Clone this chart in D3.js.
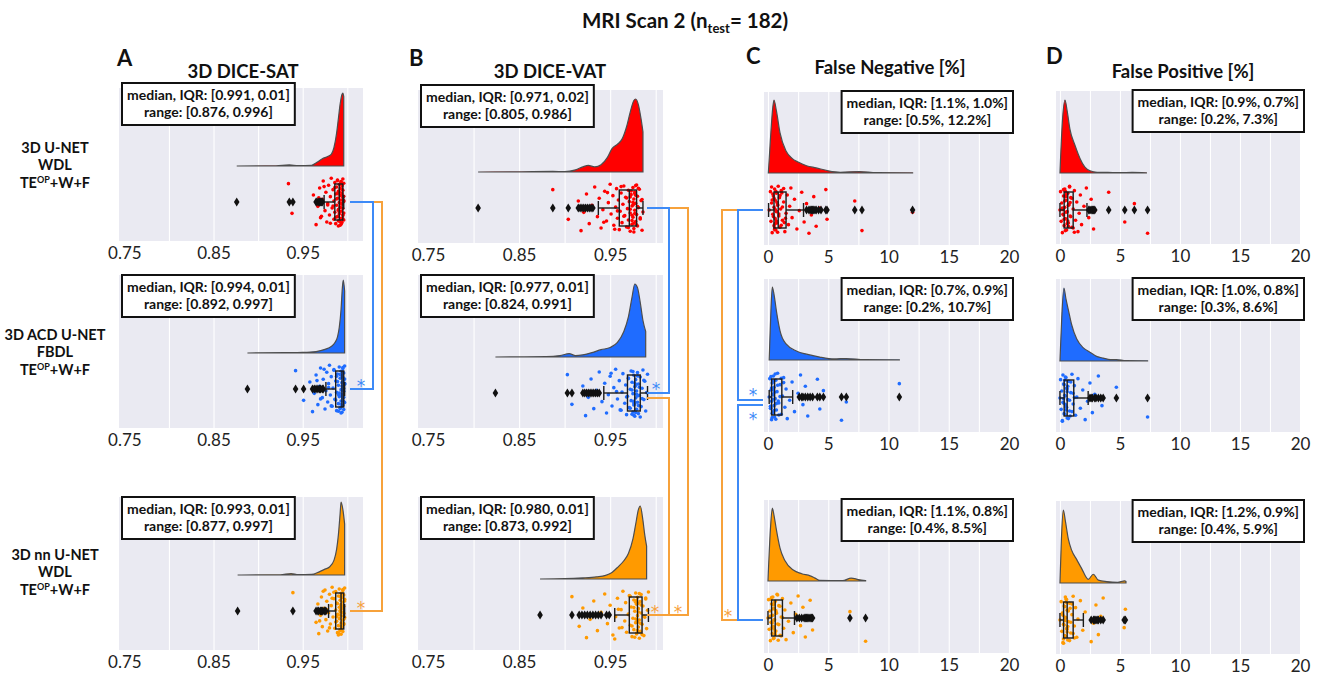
<!DOCTYPE html>
<html>
<head>
<meta charset="utf-8">
<script src="https://cdn.jsdelivr.net/npm/d3@7"></script>
<style>
  body { margin: 0; background: #fff; }
  svg { font-family: Lato, 'Open Sans', sans-serif; }
</style>
</head>
<body>
<svg id="chart" width="1320" height="676"></svg>
<script>

// ---- data ----
const metrics = ['3D DICE-SAT', '3D DICE-VAT', 'False Negative [%]', 'False Positive [%]']
const letters = ['A', 'B', 'C', 'D']
const modelNames = [['3D U-NET', 'WDL'], ['3D ACD U-NET', 'FBDL'], ['3D nn U-NET', 'WDL']]
const seriesColors = ['#ff0000', '#1f6cff', '#ff9a00']

const diceTicks = [0.75, 0.85, 0.95]
const diceGrid = [0.80, 0.85, 0.90, 0.95, 1.00]
const pctTicks = [0, 5, 10, 15, 20]
const pctGrid = [0, 2.5, 5, 7.5, 10, 12.5, 15, 17.5]

// box stats: [whisker low, q1, median, q3, whisker high]
const satBox = [[0.974, 0.986, 0.991, 0.995, 0.996], [0.976, 0.987, 0.994, 0.996, 0.997], [0.979, 0.987, 0.993, 0.996, 0.997]]
const vatBox = [[0.937, 0.960, 0.971, 0.979, 0.986], [0.943, 0.969, 0.977, 0.983, 0.991], [0.955, 0.971, 0.980, 0.985, 0.992]]
const fnBox = [[0.05, 0.5, 0.85, 1.5, 2.95], [0.1, 0.3, 0.55, 1.15, 2.05], [0.0, 0.3, 0.6, 1.2, 2.2]]
const fpBox = [[0.0, 0.35, 0.65, 1.1, 2.25], [0.0, 0.35, 0.6, 1.15, 2.35], [0.0, 0.3, 0.6, 1.1, 1.95]]

const satOutliers = [
  [0.876, 0.935, 0.939, 0.965, 0.966, 0.968, 0.969, 0.970, 0.971, 0.972],
  [0.888, 0.942, 0.951, 0.961, 0.963, 0.965, 0.967, 0.969, 0.970, 0.972, 0.973],
  [0.877, 0.939, 0.965, 0.967, 0.968, 0.970, 0.971, 0.972, 0.974, 0.975, 0.976]]
const vatOutliers = [
  [0.805, 0.887, 0.904, 0.915, 0.917, 0.919, 0.921, 0.923, 0.925, 0.927, 0.929, 0.931],
  [0.824, 0.903, 0.908, 0.920, 0.922, 0.924, 0.926, 0.928, 0.930, 0.932, 0.934, 0.936, 0.938],
  [0.873, 0.908, 0.916, 0.919, 0.922, 0.925, 0.928, 0.931, 0.934, 0.937, 0.940, 0.946, 0.949]]
const fnOutliers = [
  [3.2, 3.4, 3.5, 3.6, 3.7, 3.8, 3.9, 4.0, 4.2, 4.4, 4.8, 4.9, 7.2, 7.8, 12.0],
  [2.6, 2.8, 2.9, 3.1, 3.3, 3.5, 3.7, 4.1, 4.3, 4.6, 6.1, 6.5, 10.9],
  [2.4, 2.6, 2.8, 3.0, 3.1, 3.2, 3.3, 3.4, 3.5, 3.6, 3.7, 6.8, 8.1]]
const fpOutliers = [
  [2.4, 2.5, 2.6, 2.7, 2.8, 2.9, 4.06, 5.4, 6.2, 7.3],
  [2.5, 2.6, 2.7, 2.9, 3.0, 3.2, 3.4, 3.6, 4.7, 7.3],
  [2.6, 2.8, 2.9, 3.0, 3.1, 3.2, 3.4, 3.6, 5.35, 5.45]]

const satPoints = [
  [0.876, 0.934, 0.938, 0.962, 0.965, 0.967, 0.969, 0.970, 0.972, 0.973, 0.975, 0.976, 0.977, 0.978, 0.979, 0.980, 0.981, 0.982, 0.983, 0.984, 0.985, 0.985, 0.986, 0.986, 0.987, 0.987, 0.988, 0.988, 0.989, 0.989, 0.989, 0.990, 0.990, 0.990, 0.991, 0.991, 0.991, 0.992, 0.992, 0.992, 0.992, 0.993, 0.993, 0.993, 0.993, 0.994, 0.994, 0.994, 0.994, 0.995, 0.995, 0.995, 0.995, 0.995, 0.996, 0.996, 0.996, 0.996, 0.994, 0.993,
   0.984, 0.986, 0.987, 0.988, 0.989, 0.990, 0.991, 0.992, 0.993, 0.994, 0.995, 0.996, 0.990, 0.992, 0.994, 0.995, 0.996, 0.993, 0.991, 0.989, 0.981, 0.978, 0.974, 0.971, 0.968],
  [0.888, 0.942, 0.951, 0.958, 0.961, 0.963, 0.965, 0.967, 0.969, 0.970, 0.972, 0.973, 0.975, 0.976, 0.977, 0.978, 0.979, 0.980, 0.981, 0.982, 0.983, 0.984, 0.985, 0.986, 0.987, 0.988, 0.988, 0.989, 0.990, 0.990, 0.991, 0.991, 0.992, 0.992, 0.993, 0.993, 0.993, 0.994, 0.994, 0.994, 0.994, 0.995, 0.995, 0.995, 0.995, 0.996, 0.996, 0.996, 0.996, 0.997, 0.997, 0.997, 0.994, 0.995, 0.993, 0.996,
   0.985, 0.987, 0.989, 0.990, 0.991, 0.992, 0.993, 0.994, 0.995, 0.996, 0.997, 0.992, 0.994, 0.995, 0.996, 0.997, 0.993, 0.990, 0.988, 0.982, 0.979, 0.974, 0.970, 0.966],
  [0.877, 0.939, 0.965, 0.967, 0.968, 0.970, 0.971, 0.972, 0.974, 0.975, 0.976, 0.977, 0.978, 0.979, 0.980, 0.981, 0.982, 0.983, 0.984, 0.985, 0.986, 0.987, 0.987, 0.988, 0.988, 0.989, 0.989, 0.990, 0.990, 0.991, 0.991, 0.991, 0.992, 0.992, 0.992, 0.993, 0.993, 0.993, 0.993, 0.994, 0.994, 0.994, 0.994, 0.995, 0.995, 0.995, 0.995, 0.996, 0.996, 0.996, 0.996, 0.997, 0.997, 0.997, 0.993, 0.992,
   0.985, 0.987, 0.989, 0.990, 0.991, 0.992, 0.993, 0.994, 0.995, 0.996, 0.997, 0.992, 0.994, 0.995, 0.996, 0.993, 0.990, 0.988, 0.983, 0.980, 0.977, 0.973, 0.969]]
const vatPoints = [
  [0.805, 0.887, 0.904, 0.915, 0.918, 0.921, 0.924, 0.927, 0.930, 0.933, 0.936, 0.938, 0.940, 0.942, 0.944, 0.946, 0.948, 0.950, 0.951, 0.953, 0.954, 0.956, 0.957, 0.958, 0.959, 0.960, 0.961, 0.962, 0.963, 0.964, 0.965, 0.966, 0.967, 0.968, 0.969, 0.970, 0.970, 0.971, 0.972, 0.972, 0.973, 0.974, 0.974, 0.975, 0.975, 0.976, 0.976, 0.977, 0.977, 0.978, 0.978, 0.979, 0.979, 0.980, 0.980, 0.981, 0.982, 0.983, 0.984, 0.985, 0.986, 0.977, 0.976, 0.975,
   0.962, 0.965, 0.968, 0.970, 0.972, 0.973, 0.974, 0.975, 0.976, 0.977, 0.978, 0.979, 0.980, 0.981, 0.983, 0.985, 0.955, 0.958, 0.947, 0.943, 0.976, 0.978, 0.974, 0.972],
  [0.824, 0.903, 0.908, 0.920, 0.923, 0.926, 0.929, 0.932, 0.935, 0.938, 0.941, 0.944, 0.946, 0.948, 0.950, 0.952, 0.954, 0.956, 0.958, 0.960, 0.962, 0.963, 0.964, 0.966, 0.967, 0.968, 0.969, 0.970, 0.971, 0.972, 0.973, 0.973, 0.974, 0.975, 0.975, 0.976, 0.976, 0.977, 0.977, 0.978, 0.978, 0.979, 0.979, 0.980, 0.980, 0.981, 0.981, 0.982, 0.983, 0.984, 0.985, 0.986, 0.987, 0.988, 0.989, 0.990, 0.991, 0.977, 0.978, 0.976,
   0.968, 0.970, 0.972, 0.974, 0.975, 0.976, 0.977, 0.978, 0.979, 0.980, 0.981, 0.982, 0.983, 0.985, 0.987, 0.961, 0.957, 0.951, 0.976, 0.978, 0.974, 0.980],
  [0.873, 0.908, 0.916, 0.920, 0.924, 0.928, 0.932, 0.936, 0.940, 0.944, 0.947, 0.950, 0.953, 0.956, 0.958, 0.960, 0.962, 0.964, 0.966, 0.967, 0.968, 0.970, 0.971, 0.972, 0.973, 0.974, 0.975, 0.976, 0.976, 0.977, 0.978, 0.978, 0.979, 0.979, 0.980, 0.980, 0.981, 0.981, 0.982, 0.982, 0.983, 0.983, 0.984, 0.984, 0.985, 0.986, 0.987, 0.988, 0.989, 0.990, 0.991, 0.992, 0.980, 0.981, 0.979,
   0.970, 0.972, 0.974, 0.976, 0.977, 0.978, 0.979, 0.980, 0.981, 0.982, 0.983, 0.984, 0.985, 0.987, 0.989, 0.963, 0.959, 0.955, 0.980, 0.978, 0.982]]
const fnPoints = [
  [0.1, 0.2, 0.25, 0.3, 0.35, 0.4, 0.45, 0.5, 0.5, 0.55, 0.6, 0.6, 0.65, 0.7, 0.7, 0.75, 0.8, 0.85, 0.9, 0.95, 1.0, 1.05, 1.1, 1.2, 1.3, 1.4, 1.5, 1.6, 1.7, 1.8, 1.9, 2.0, 2.2, 2.4, 2.6, 2.8, 3.0, 3.2, 3.4, 3.6, 3.8, 4.0, 4.3, 4.8, 4.9, 7.2, 7.8, 12.0, 0.4, 0.6, 0.8,
   0.3, 0.45, 0.5, 0.55, 0.6, 0.65, 0.7, 0.75, 0.8, 0.9, 1.0, 1.1, 1.2, 1.3, 1.45, 0.35, 0.55, 0.7, 1.15, 1.35],
  [0.1, 0.15, 0.2, 0.25, 0.3, 0.3, 0.35, 0.4, 0.4, 0.45, 0.5, 0.5, 0.55, 0.6, 0.65, 0.7, 0.75, 0.8, 0.9, 1.0, 1.1, 1.2, 1.3, 1.4, 1.5, 1.6, 1.8, 2.0, 2.2, 2.5, 2.7, 2.9, 3.1, 3.3, 3.6, 4.1, 4.3, 4.6, 6.1, 6.5, 10.9, 0.35, 0.45, 0.25,
   0.2, 0.3, 0.35, 0.4, 0.45, 0.5, 0.55, 0.6, 0.7, 0.8, 0.9, 1.0, 1.1, 0.25, 0.4, 0.65, 0.85, 1.3],
  [0.0, 0.05, 0.1, 0.15, 0.2, 0.25, 0.3, 0.35, 0.4, 0.4, 0.45, 0.5, 0.5, 0.55, 0.6, 0.65, 0.7, 0.75, 0.8, 0.9, 1.0, 1.1, 1.2, 1.3, 1.4, 1.5, 1.7, 1.9, 2.1, 2.3, 2.5, 2.7, 2.9, 3.1, 3.3, 3.5, 3.7, 6.8, 8.1, 0.35, 0.45, 0.6,
   0.2, 0.3, 0.35, 0.4, 0.45, 0.5, 0.55, 0.6, 0.7, 0.8, 0.9, 1.0, 1.1, 1.2, 0.25, 0.5, 0.65, 0.85]]
const fpPoints = [
  [0.0, 0.05, 0.1, 0.15, 0.2, 0.25, 0.3, 0.35, 0.4, 0.4, 0.45, 0.5, 0.55, 0.6, 0.65, 0.7, 0.75, 0.8, 0.85, 0.9, 1.0, 1.1, 1.2, 1.3, 1.4, 1.5, 1.6, 1.7, 1.8, 2.0, 2.2, 2.4, 2.6, 2.8, 2.9, 4.06, 5.4, 6.2, 7.3, 0.3, 0.5, 0.7,
   0.2, 0.3, 0.35, 0.4, 0.45, 0.5, 0.55, 0.6, 0.7, 0.8, 0.9, 1.0, 1.1, 0.25, 0.45, 0.65, 0.85, 1.2],
  [0.0, 0.05, 0.1, 0.15, 0.2, 0.25, 0.3, 0.35, 0.4, 0.45, 0.5, 0.55, 0.6, 0.65, 0.7, 0.8, 0.9, 1.0, 1.1, 1.2, 1.3, 1.4, 1.5, 1.7, 1.9, 2.1, 2.3, 2.5, 2.7, 2.9, 3.2, 3.5, 4.7, 7.3, 0.3, 0.4, 0.5, 0.6,
   0.2, 0.3, 0.35, 0.4, 0.45, 0.5, 0.55, 0.6, 0.7, 0.8, 0.9, 1.0, 1.1, 0.25, 0.45, 0.65, 0.85, 1.2],
  [0.0, 0.1, 0.15, 0.2, 0.25, 0.3, 0.35, 0.4, 0.45, 0.5, 0.55, 0.6, 0.65, 0.7, 0.8, 0.9, 1.0, 1.1, 1.2, 1.3, 1.4, 1.5, 1.7, 1.9, 2.1, 2.6, 2.8, 3.0, 3.2, 3.4, 3.6, 5.35, 5.45, 0.3, 0.4, 0.5, 0.6,
   0.2, 0.3, 0.35, 0.4, 0.45, 0.5, 0.55, 0.6, 0.7, 0.8, 0.9, 1.0, 1.1, 0.25, 0.45, 0.65, 0.85, 1.2]]

// density curves as [value, relative height]
const satDensity = [
  [[0.876, 0], [0.92, 0.003], [0.935, 0.015], [0.945, 0.004], [0.96, 0.01], [0.966, 0.05], [0.972, 0.1], [0.978, 0.13], [0.982, 0.16], [0.985, 0.25], [0.988, 0.45], [0.990, 0.65], [0.992, 0.85], [0.994, 0.98], [0.995, 1.0], [0.996, 0.95]],
  [[0.888, 0], [0.93, 0.004], [0.95, 0.008], [0.965, 0.02], [0.975, 0.05], [0.982, 0.09], [0.986, 0.14], [0.989, 0.22], [0.991, 0.35], [0.993, 0.6], [0.9945, 0.9], [0.9955, 1.0], [0.997, 0.85]],
  [[0.877, 0], [0.925, 0.003], [0.937, 0.02], [0.945, 0.005], [0.96, 0.008], [0.968, 0.04], [0.975, 0.08], [0.98, 0.11], [0.985, 0.2], [0.988, 0.35], [0.990, 0.55], [0.992, 0.85], [0.993, 1.0], [0.995, 0.9], [0.997, 0.7]]]
const vatDensity = [
  [[0.805, 0], [0.85, 0.003], [0.887, 0.008], [0.90, 0.005], [0.912, 0.03], [0.92, 0.07], [0.926, 0.09], [0.933, 0.07], [0.94, 0.1], [0.947, 0.2], [0.952, 0.32], [0.958, 0.38], [0.963, 0.45], [0.968, 0.62], [0.972, 0.82], [0.976, 0.98], [0.978, 1.0], [0.981, 0.92], [0.984, 0.72], [0.986, 0.55]],
  [[0.824, 0], [0.88, 0.004], [0.895, 0.02], [0.905, 0.045], [0.912, 0.02], [0.92, 0.03], [0.93, 0.06], [0.94, 0.1], [0.95, 0.13], [0.958, 0.2], [0.965, 0.35], [0.970, 0.55], [0.974, 0.82], [0.977, 1.0], [0.980, 0.95], [0.983, 0.75], [0.986, 0.5], [0.989, 0.35]],
  [[0.873, 0], [0.90, 0.004], [0.92, 0.015], [0.935, 0.03], [0.945, 0.05], [0.952, 0.09], [0.959, 0.17], [0.965, 0.25], [0.970, 0.35], [0.975, 0.55], [0.978, 0.75], [0.981, 0.95], [0.983, 1.0], [0.986, 0.8], [0.988, 0.6], [0.990, 0.45]]]
const fnDensity = [
  [[0.03, 0], [0.2, 0.45], [0.4, 0.9], [0.5, 1.0], [0.7, 0.85], [1.0, 0.55], [1.5, 0.3], [2.0, 0.2], [2.5, 0.15], [3.2, 0.1], [4.0, 0.07], [5.0, 0.03], [6.0, 0.01], [7.6, 0.02], [9.0, 0.005], [12.0, 0.002]],
  [[0.1, 0], [0.25, 0.7], [0.36, 1.0], [0.5, 0.9], [0.72, 0.65], [1.0, 0.4], [1.5, 0.22], [2.4, 0.12], [3.2, 0.08], [4.3, 0.04], [5.5, 0.015], [6.5, 0.02], [8, 0.005], [10.9, 0.002]],
  [[0.0, 0], [0.2, 0.7], [0.36, 1.0], [0.5, 0.9], [0.7, 0.7], [1.0, 0.45], [1.4, 0.28], [2.1, 0.15], [2.8, 0.1], [3.5, 0.07], [3.9, 0.04], [4.3, 0.01], [6.2, 0.005], [6.9, 0.04], [7.5, 0.02], [8.1, 0.005]]]
const fpDensity = [
  [[0.0, 0], [0.2, 0.7], [0.42, 1.0], [0.6, 0.85], [0.83, 0.6], [1.25, 0.38], [1.67, 0.2], [2.08, 0.08], [2.5, 0.03], [3.1, 0.01], [4.0, 0.008], [5.0, 0.004], [6.0, 0.008], [7.2, 0.003]],
  [[0.0, 0], [0.15, 0.6], [0.33, 1.0], [0.5, 0.85], [0.7, 0.7], [0.97, 0.5], [1.4, 0.3], [1.95, 0.18], [2.5, 0.12], [3.1, 0.06], [3.6, 0.04], [4.2, 0.02], [4.7, 0.02], [5.5, 0.005], [7.3, 0.003]],
  [[0.0, 0], [0.12, 0.6], [0.28, 1.0], [0.45, 0.85], [0.7, 0.6], [0.97, 0.45], [1.4, 0.32], [1.8, 0.2], [2.36, 0.05], [2.78, 0.12], [3.2, 0.04], [3.9, 0.02], [4.8, 0.01], [5.4, 0.03], [5.5, 0.02]]]

const satText = [['median, IQR: [0.991, 0.01]', 'range: [0.876, 0.996]'], ['median, IQR: [0.994, 0.01]', 'range: [0.892, 0.997]'], ['median, IQR: [0.993, 0.01]', 'range: [0.877, 0.997]']]
const vatText = [['median, IQR: [0.971, 0.02]', 'range: [0.805, 0.986]'], ['median, IQR: [0.977, 0.01]', 'range: [0.824, 0.991]'], ['median, IQR: [0.980, 0.01]', 'range: [0.873, 0.992]']]
const fnText = [['median, IQR: [1.1%, 1.0%]', 'range: [0.5%, 12.2%]'], ['median, IQR: [0.7%, 0.9%]', 'range: [0.2%, 10.7%]'], ['median, IQR: [1.1%, 0.8%]', 'range: [0.4%, 8.5%]']]
const fpText = [['median, IQR: [0.9%, 0.7%]', 'range: [0.2%, 7.3%]'], ['median, IQR: [1.0%, 0.8%]', 'range: [0.3%, 8.6%]'], ['median, IQR: [1.2%, 0.9%]', 'range: [0.4%, 5.9%]']]

// ---- layout ----
const columns = [
  { box: satBox, out: satOutliers, pts: satPoints, dens: satDensity, txt: satText, domain: [0.744, 1.0176], ticks: diceTicks, grid: diceGrid, fmt: d3.format('.2f') },
  { box: vatBox, out: vatOutliers, pts: vatPoints, dens: vatDensity, txt: vatText, domain: [0.739, 1.008], ticks: diceTicks, grid: diceGrid, fmt: d3.format('.2f') },
  { box: fnBox, out: fnOutliers, pts: fnPoints, dens: fnDensity, txt: fnText, domain: [-0.33, 20], ticks: pctTicks, grid: pctGrid, fmt: d3.format('d') },
  { box: fpBox, out: fpOutliers, pts: fpPoints, dens: fpDensity, txt: fpText, domain: [-0.33, 20], ticks: pctTicks, grid: pctGrid, fmt: d3.format('d') }
]
const colLeft = [119, 418, 764, 1056]
const colRight = [363, 663, 1009, 1300]
const rowTop = [[88, 275, 497], [90, 275, 497], [92, 279, 500], [91, 279, 501]]
const panelH = 153
const baseOff = [78, 82, 81, 82]
const boxOff = [114, 118, 118, 119]
const peakH = 73
const boxHalf = 18
const jitterHalf = 24

const svg = d3.select('#chart')
const jit = i => ((i * 0.6180339887 + 0.5) % 1) * 2 - 1
const diamond = 'M0,-4.5L2.8,0L0,4.5L-2.8,0Z'

const boxY = (c, r) => rowTop[c][r] + boxOff[c]

columns.forEach((col, c) => {
  const x = d3.scaleLinear().domain(col.domain).range([colLeft[c], colRight[c]])

  rowTop[c].forEach((top, r) => {
    const g = svg.append('g')
    const bottom = top + panelH
    const color = seriesColors[r]

    g.append('rect')
      .attr('x', colLeft[c]).attr('y', top)
      .attr('width', colRight[c] - colLeft[c]).attr('height', panelH)
      .attr('fill', '#eaeaf2')

    // grid lines
    const grid = g.append('g').attr('transform', 'translate(0,' + bottom + ')')
      .call(d3.axisBottom(x).tickValues(col.grid.filter(v => x(v) > colLeft[c] + 2 && x(v) < colRight[c] - 2))
        .tickSizeInner(-panelH).tickSizeOuter(0).tickFormat(''))
    grid.selectAll('.tick line').attr('stroke', '#fff').attr('stroke-width', 1.1)
    grid.select('.domain').remove()

    // tick labels
    const axis = g.append('g').attr('transform', 'translate(0,' + bottom + ')')
      .call(d3.axisBottom(x).tickValues(col.ticks).tickSize(0).tickFormat(col.fmt))
    axis.select('.domain').remove()
    axis.selectAll('.tick text')
      .attr('font-family', "Lato, 'Open Sans', sans-serif")
      .attr('font-size', 17).attr('fill', '#222').attr('y', 6).attr('dy', '0.71em')

    // half violin
    const base = top + baseOff[c]
    const yd = d3.scaleLinear().domain([0, 1]).range([base, base - peakH])
    const area = d3.area().x(d => x(d[0])).y0(base).y1(d => yd(d[1])).curve(d3.curveMonotoneX)
    g.append('path').datum(col.dens[r])
      .attr('d', area).attr('fill', color)
      .attr('stroke', '#4d4d4d').attr('stroke-width', 1.2)

    // jittered points
    const by = top + boxOff[c]
    g.append('g').selectAll('circle').data(col.pts[r]).join('circle')
      .attr('cx', d => x(d)).attr('cy', (d, i) => by + jit(i) * jitterHalf)
      .attr('r', 1.8).attr('fill', color)

    // box plot
    const [lo, q1, med, q3, hi] = col.box[r]
    const bx = g.append('g').attr('stroke', '#1a1a1a').attr('stroke-width', 1.4).attr('fill', 'none')
    bx.append('line').attr('x1', x(lo)).attr('x2', x(q1)).attr('y1', by).attr('y2', by)
    bx.append('line').attr('x1', x(q3)).attr('x2', x(hi)).attr('y1', by).attr('y2', by)
    bx.append('line').attr('x1', x(lo)).attr('x2', x(lo)).attr('y1', by - 7).attr('y2', by + 7)
    bx.append('line').attr('x1', x(hi)).attr('x2', x(hi)).attr('y1', by - 7).attr('y2', by + 7)
    bx.append('rect').attr('x', x(q1)).attr('y', by - boxHalf)
      .attr('width', x(q3) - x(q1)).attr('height', boxHalf * 2)
    bx.append('line').attr('x1', x(med)).attr('x2', x(med)).attr('y1', by - boxHalf).attr('y2', by + boxHalf)

    // outliers
    g.append('g').selectAll('path').data(col.out[r]).join('path')
      .attr('d', diamond).attr('fill', '#111')
      .attr('transform', d => 'translate(' + x(d) + ',' + by + ')')

    // stats box
    const sb = g.append('g')
    const lines = col.txt[r]
    const txt = sb.selectAll('text').data(lines).join('text')
      .text(d => d)
      .attr('font-size', 14).attr('font-weight', 'bold').attr('fill', '#111')
      .attr('text-anchor', 'middle')
    const w = d3.max(txt.nodes(), n => n.getComputedTextLength()) + 10
    const h = 42
    const bxl = c < 2 ? colLeft[c] + 3 : colRight[c] + 4 - w
    const bty = c < 2 ? top + (r === 0 ? -5 : 0) : top - 1
    sb.insert('rect', 'text')
      .attr('x', bxl).attr('y', bty).attr('width', w).attr('height', h)
      .attr('fill', '#fff').attr('stroke', '#111').attr('stroke-width', 2)
    txt.attr('x', bxl + w / 2).attr('y', (d, i) => bty + 17 + i * 17)
  })

  // panel letter and metric title
  svg.append('text').text(letters[c])
    .attr('x', [117, 409, 746, 1046][c]).attr('y', [66, 66, 64, 64][c])
    .attr('font-size', 22).attr('font-weight', 'bold').attr('fill', '#111')
  svg.append('text').text(metrics[c])
    .attr('x', [243, 550, 890, 1183][c]).attr('y', [78, 78, 74, 78][c])
    .attr('text-anchor', 'middle').attr('font-size', 18.5).attr('font-weight', 'bold').attr('fill', '#111')
})

// ---- significance brackets ----
const blue = '#3d8af7', orange = '#f7a23b'
const brackets = [
  { col: 0, from: 0, to: 2, color: orange, side: 'right', sx: -13, vx: 19, fy: 0, ty: 0, ax: -2, at: 'to', ay: -7 },
  { col: 0, from: 0, to: 1, color: blue, side: 'right', sx: -13, vx: 10, fy: 0, ty: 0, ax: -2, at: 'to', ay: -7 },
  { col: 1, from: 0, to: 2, color: orange, side: 'right', sx: -16, vx: 25, fy: 0, ty: 0, ax: 15, at: 'to', ay: -7 },
  { col: 1, from: 1, to: 2, color: orange, side: 'right', sx: -16, vx: 6, fy: 5, ty: 0, ax: -8, at: 'to', ay: -7 },
  { col: 1, from: 0, to: 1, color: blue, side: 'right', sx: -16, vx: 6, fy: 0, ty: 0, ax: -7, at: 'to', ay: -8 },
  { col: 2, from: 0, to: 2, color: orange, side: 'left', sx: -1, vx: -42, fy: 0, ty: 2, ax: -36, at: 'to', ay: -8 },
  { col: 2, from: 0, to: 1, color: blue, side: 'left', sx: -1, vx: -26, fy: 0, ty: 3, ax: -11, at: 'to', ay: -9 },
  { col: 2, from: 1, to: 2, color: blue, side: 'left', sx: -1, vx: -26, fy: 8, ty: 2, ax: -11, at: 'from', ay: 10 }
]
brackets.forEach(b => {
  const edge = b.side === 'right' ? colRight[b.col] : colLeft[b.col]
  const x0 = edge + b.sx
  const xv = edge + b.vx
  const y1 = boxY(b.col, b.from) + b.fy
  const y2 = boxY(b.col, b.to) + b.ty
  svg.append('path')
    .attr('d', 'M' + x0 + ',' + y1 + 'H' + xv + 'V' + y2 + 'H' + x0)
    .attr('fill', 'none').attr('stroke', b.color).attr('stroke-width', 2)
  const ya = (b.at === 'to' ? y2 : y1) + b.ay
  svg.append('text').text('*')
    .attr('x', edge + b.ax).attr('y', ya + 10)
    .attr('text-anchor', 'middle').attr('font-family', "'DejaVu Sans', sans-serif")
    .attr('font-size', 17).attr('fill', b.color)
})

// ---- row labels ----
modelNames.forEach((m, r) => {
  const top = rowTop[0][r]
  const t = svg.append('text').attr('text-anchor', 'middle')
    .attr('font-size', 14.5).attr('font-weight', 'bold').attr('fill', '#111')
  const dys = r === 2 ? [63, 80, 98] : [65, 82, 100]
  t.append('tspan').attr('x', 55).attr('y', top + dys[0]).text(m[0])
  t.append('tspan').attr('x', 55).attr('y', top + dys[1]).text(m[1])
  const t3 = svg.append('text').attr('text-anchor', 'middle')
    .attr('x', 55).attr('y', top + dys[2])
    .attr('font-size', 14.5).attr('font-weight', 'bold').attr('fill', '#111')
  t3.append('tspan').text('TE')
  t3.append('tspan').text('OP').attr('font-size', 9).attr('dy', -5)
  t3.append('tspan').text('+W+F').attr('dy', 5)
})

// ---- main title ----
const title = svg.append('text').attr('x', 685).attr('y', 28).attr('text-anchor', 'middle')
  .attr('font-size', 20.5).attr('font-weight', 'bold').attr('fill', '#111')
title.append('tspan').text('MRI Scan 2 (n')
title.append('tspan').text('test').attr('font-size', 13).attr('dy', 5)
title.append('tspan').text('= 182)').attr('dy', -5)

</script>
</body>
</html>
